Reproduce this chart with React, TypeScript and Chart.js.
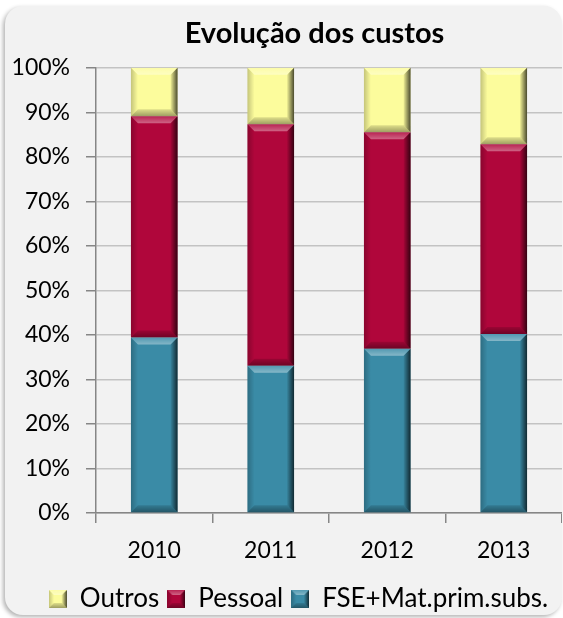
import React, { useEffect, useRef } from "react";
import { Chart, registerables } from "chart.js";

Chart.register(...registerables);

const TITLE = "Evolução dos custos";
const YEARS = ["2010", "2011", "2012", "2013"];
const SERIES_NAMES = ["FSE+Mat.prim.subs.", "Pessoal", "Outros"];
const FSE_VALUES = [39.4, 33.1, 36.9, 40.2];
const PESSOAL_VALUES = [49.7, 54.2, 48.6, 42.6];
const OUTROS_VALUES = [10.9, 12.7, 14.5, 17.2];
const SERIES_COLORS = ["#3A8BA6", "#B0063B", "#FCFC9C"];
const Y_TICKS_STEP = 10;

const FONT = "Lato, 'Open Sans', sans-serif";
const W = 557;
const FRAME_H = 609;
const CANVAS_H = 616;
const TITLE_SHIFT = 31;
const LEGEND_SHIFT = 15;

function drawBevel(ctx: CanvasRenderingContext2D, l: number, t: number, r: number, b: number, bv: number, sv: number) {
  let g = ctx.createLinearGradient(0, t, 0, t + bv);
  g.addColorStop(0, "rgba(255,255,255,0.12)");
  g.addColorStop(1, "rgba(255,255,255,0.38)");
  ctx.fillStyle = g;
  ctx.beginPath();
  ctx.moveTo(l, t); ctx.lineTo(r, t); ctx.lineTo(r - sv, t + bv); ctx.lineTo(l + sv, t + bv); ctx.closePath();
  ctx.fill();
  g = ctx.createLinearGradient(0, b - bv, 0, b);
  g.addColorStop(0, "rgba(0,0,0,0.12)");
  g.addColorStop(1, "rgba(0,0,0,0.38)");
  ctx.fillStyle = g;
  ctx.beginPath();
  ctx.moveTo(l, b); ctx.lineTo(r, b); ctx.lineTo(r - sv, b - bv); ctx.lineTo(l + sv, b - bv); ctx.closePath();
  ctx.fill();
  g = ctx.createLinearGradient(l, 0, l + sv, 0);
  g.addColorStop(0, "rgba(0,0,0,0.22)");
  g.addColorStop(1, "rgba(0,0,0,0)");
  ctx.fillStyle = g;
  ctx.beginPath();
  ctx.moveTo(l, t); ctx.lineTo(l + sv, t + bv); ctx.lineTo(l + sv, b - bv); ctx.lineTo(l, b); ctx.closePath();
  ctx.fill();
  g = ctx.createLinearGradient(r - sv, 0, r, 0);
  g.addColorStop(0, "rgba(0,0,0,0.05)");
  g.addColorStop(1, "rgba(0,0,0,0.7)");
  ctx.fillStyle = g;
  ctx.beginPath();
  ctx.moveTo(r, t); ctx.lineTo(r, b); ctx.lineTo(r - sv, b - bv); ctx.lineTo(r - sv, t + bv); ctx.closePath();
  ctx.fill();
}

const bevelPlugin = {
  id: "bevel",
  afterLayout(chart: any) {
    if (chart.titleBlock) {
      chart.titleBlock.left += TITLE_SHIFT;
      chart.titleBlock.right += TITLE_SHIFT;
    }
    if (chart.legend) {
      chart.legend.left += LEGEND_SHIFT;
      chart.legend.right += LEGEND_SHIFT;
    }
  },
  afterDatasetsDraw(chart: any) {
    const ctx = chart.ctx as CanvasRenderingContext2D;
    ctx.save();
    chart.data.datasets.forEach((_ds: any, i: number) => {
      const meta = chart.getDatasetMeta(i);
      if (meta.hidden) return;
      meta.data.forEach((bar: any) => {
        const { x, y, base, width } = bar.getProps(["x", "y", "base", "width"], true);
        const l = x - width / 2;
        const r = x + width / 2;
        const t = Math.min(y, base);
        const b = Math.max(y, base);
        const h = b - t;
        if (h <= 0) return;
        const bv = Math.min(7, h / 2);
        drawBevel(ctx, l, t, r, b, bv, 7);
      });
    });
    ctx.restore();
  },
};

function makeIcon(color: string): HTMLCanvasElement {
  const c = document.createElement("canvas");
  c.width = 18;
  c.height = 18;
  const ctx = c.getContext("2d") as CanvasRenderingContext2D;
  ctx.fillStyle = color;
  ctx.fillRect(0, 0, 18, 18);
  drawBevel(ctx, 0, 0, 18, 18, 5, 5);
  return c;
}

export default function App() {
  const ref = useRef<HTMLCanvasElement | null>(null);

  useEffect(() => {
    if (!ref.current) return;
    const icons = SERIES_COLORS.map((c) => makeIcon(c));
    const chart = new Chart(ref.current, {
      type: "bar",
      data: {
        labels: YEARS,
        datasets: [
          { label: SERIES_NAMES[0], data: FSE_VALUES, backgroundColor: SERIES_COLORS[0] },
          { label: SERIES_NAMES[1], data: PESSOAL_VALUES, backgroundColor: SERIES_COLORS[1] },
          { label: SERIES_NAMES[2], data: OUTROS_VALUES, backgroundColor: SERIES_COLORS[2] },
        ],
      },
      options: {
        responsive: false,
        animation: false,
        devicePixelRatio: 1,
        layout: { padding: 0 },
        datasets: {
          bar: { barPercentage: 0.4, categoryPercentage: 1, borderWidth: 0 },
        },
        plugins: {
          title: {
            display: true,
            text: TITLE,
            color: "#000",
            font: { family: FONT, size: 29, weight: "bold" },
            padding: { top: 10, bottom: 17 },
          },
          legend: {
            display: true,
            position: "bottom",
            labels: {
              color: "#000",
              font: { family: FONT, size: 26 },
              usePointStyle: true,
              boxWidth: 18,
              boxHeight: 18,
              padding: 8,
              generateLabels: () =>
                [2, 1, 0].map((i) => ({
                  text: SERIES_NAMES[i],
                  fillStyle: SERIES_COLORS[i],
                  strokeStyle: SERIES_COLORS[i],
                  lineWidth: 0,
                  pointStyle: icons[i],
                  hidden: false,
                  datasetIndex: i,
                  fontColor: "#000",
                })),
            },
          },
          tooltip: { enabled: false },
        },
        scales: {
          x: {
            stacked: true,
            offset: true,
            grid: {
              display: true,
              offset: true,
              drawOnChartArea: false,
              drawTicks: true,
              tickLength: 10,
              tickColor: "#868686",
              lineWidth: 1.5,
            },
            border: { display: true, color: "#868686", width: 1.5 },
            ticks: { color: "#000", font: { family: FONT, size: 23 }, padding: 13.7, maxRotation: 0 },
          },
          y: {
            stacked: true,
            min: 0,
            max: 100,
            afterFit: (scale: any) => {
              scale.width = 91;
            },
            grid: {
              display: true,
              color: "#C3C3C3",
              lineWidth: 1.5,
              drawTicks: true,
              tickLength: 10,
              tickColor: "#868686",
            },
            border: { display: true, color: "#868686", width: 1.5 },
            ticks: {
              stepSize: Y_TICKS_STEP,
              color: "#000",
              font: { family: FONT, size: 23 },
              padding: 16,
              callback: (v: any) => `${v}%`,
            },
          },
        },
      },
      plugins: [bevelPlugin],
    } as any);
    return () => chart.destroy();
  }, []);

  return (
    <div
      style={{
        position: "fixed",
        left: 5,
        top: 6,
        width: W,
        height: FRAME_H,
        borderRadius: 18,
        background: "#F2F2F2",
        boxShadow: "-2px 2px 4px rgba(0,0,0,0.3)",
        overflow: "hidden",
      }}
    >
      <canvas ref={ref} width={W} height={CANVAS_H} style={{ display: "block", width: W, height: CANVAS_H }} />
    </div>
  );
}
